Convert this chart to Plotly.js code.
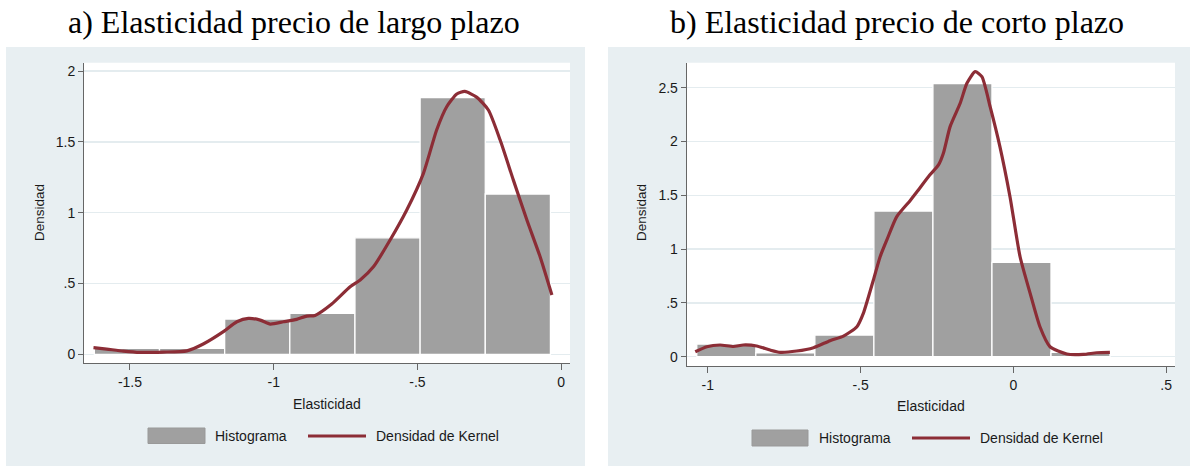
<!DOCTYPE html>
<html><head><meta charset="utf-8">
<script src="https://cdn.plot.ly/plotly-3.0.1.min.js"></script>
<style>body{margin:0;padding:0;background:#fff}#chart{width:1190px;height:466px}</style>
</head><body><div id="chart"></div>
<script>
// ---------- data ----------
const panelTitles = ["a) Elasticidad precio de largo plazo", "b) Elasticidad precio de corto plazo"];
const xAxisTitle = "Elasticidad";
const yAxisTitle = "Densidad";
const legendLabels = ["Histograma", "Densidad de Kernel"];

// Panel a: long-run price elasticity
const binStartA = -1.624;
const binWidthA = 0.2267;
const histA = [0.042, 0.042, 0.249, 0.289, 0.823, 1.812, 1.132];
const kernelXA = [-1.627,-1.581,-1.523,-1.465,-1.384,-1.302,-1.245,-1.175,-1.128,-1.088,-1.047,-1.012,-0.966,-0.920,-0.885,-0.856,-0.798,-0.734,-0.699,-0.653,-0.595,-0.537,-0.479,-0.433,-0.398,-0.363,-0.335,-0.293,-0.253,-0.212,-0.166,-0.119,-0.073,-0.032];
const kernelYA = [0.047,0.037,0.023,0.014,0.016,0.025,0.073,0.160,0.230,0.254,0.242,0.214,0.230,0.247,0.270,0.275,0.355,0.477,0.525,0.618,0.807,1.019,1.278,1.584,1.748,1.838,1.856,1.814,1.725,1.513,1.230,0.948,0.689,0.419];
const xTickValsA = [-1.5, -1, -0.5, 0];
const xTickTextA = ["-1.5", "-1", "-.5", "0"];
const yTickValsA = [0, 0.5, 1, 1.5, 2];
const yTickTextA = ["0", ".5", "1", "1.5", "2"];

// Panel b: short-run price elasticity
const binStartB = -1.036;
const binWidthB = 0.1932;
const histB = [0.118, 0.037, 0.202, 1.354, 2.537, 0.877, 0.041];
const kernelXB = [-1.041,-1.003,-0.960,-0.916,-0.884,-0.840,-0.796,-0.763,-0.709,-0.654,-0.600,-0.556,-0.512,-0.491,-0.458,-0.436,-0.414,-0.382,-0.338,-0.316,-0.273,-0.245,-0.229,-0.207,-0.174,-0.152,-0.125,-0.103,-0.076,-0.044,-0.011,0.022,0.055,0.087,0.120,0.175,0.229,0.273,0.316];
const kernelYB = [0.046,0.093,0.109,0.095,0.109,0.100,0.062,0.041,0.053,0.084,0.149,0.192,0.279,0.403,0.713,0.929,1.085,1.300,1.450,1.530,1.690,1.782,1.890,2.138,2.355,2.541,2.649,2.602,2.323,1.952,1.487,0.929,0.589,0.279,0.093,0.025,0.022,0.037,0.041];
const xTickValsB = [-1, -0.5, 0, 0.5];
const xTickTextB = ["-1", "-.5", "0", ".5"];
const yTickValsB = [0, 0.5, 1, 1.5, 2, 2.5];
const yTickTextB = ["0", ".5", "1", "1.5", "2", "2.5"];

// ---------- styling ----------
const W = 1190, H = 466;
const px = v => v / W;
const py = v => 1 - v / H;
const BAR = '#a0a0a0';
const KERNEL = '#8c2d36';
const BG = '#e8eff2';
const GRID = '#e4ecef';
const AX = '#666666';
const SANS = 'Liberation Sans, Arial, sans-serif';
const SERIF = 'Liberation Serif, Times New Roman, serif';

function centers(start, width, n) {
  const c = [];
  for (let i = 0; i < n; i++) c.push(start + width * (i + 0.5));
  return c;
}

const traces = [
  {type:'bar', x: centers(binStartA, binWidthA, histA.length), y: histA, width: binWidthA,
   marker:{color:BAR, line:{color:'#ffffff', width:1.3}}, xaxis:'x', yaxis:'y', showlegend:false, hoverinfo:'skip'},
  {type:'scatter', mode:'lines', x: kernelXA, y: kernelYA, line:{color:KERNEL, width:3.2, shape:'spline', smoothing:0.6},
   xaxis:'x', yaxis:'y', showlegend:false, hoverinfo:'skip'},
  {type:'bar', x: centers(binStartB, binWidthB, histB.length), y: histB, width: binWidthB,
   marker:{color:BAR, line:{color:'#ffffff', width:1.3}}, xaxis:'x2', yaxis:'y2', showlegend:false, hoverinfo:'skip'},
  {type:'scatter', mode:'lines', x: kernelXB, y: kernelYB, line:{color:KERNEL, width:3.2, shape:'spline', smoothing:0.6},
   xaxis:'x2', yaxis:'y2', showlegend:false, hoverinfo:'skip'}
];

function xAxis(domain, range, vals, text, anchor) {
  return {domain, range, anchor, tickmode:'array', tickvals:vals, ticktext:text,
    showline:true, linecolor:AX, linewidth:1, ticks:'outside', ticklen:6, tickcolor:AX, tickwidth:1,
    showgrid:false, zeroline:false, tickfont:{family:SANS, size:14, color:'#1a1a1a'}, fixedrange:true};
}
function yAxis(domain, range, vals, text, anchor) {
  return {domain, range, anchor, tickmode:'array', tickvals:vals, ticktext:text,
    showline:true, linecolor:AX, linewidth:1, ticks:'outside', ticklen:5, tickcolor:AX, tickwidth:1,
    showgrid:true, gridcolor:GRID, gridwidth:1.5, zeroline:false,
    tickfont:{family:SANS, size:14, color:'#1a1a1a'}, fixedrange:true};
}

const shapes = [
  {type:'rect', xref:'paper', yref:'paper', x0:px(6), x1:px(585), y0:0, y1:py(47), fillcolor:BG, line:{width:0}, layer:'below'},
  {type:'rect', xref:'paper', yref:'paper', x0:px(608), x1:1, y0:0, y1:py(47), fillcolor:BG, line:{width:0}, layer:'below'},
  {type:'rect', xref:'x domain', yref:'y domain', x0:0, x1:1, y0:0, y1:1, fillcolor:'#ffffff', line:{width:0}, layer:'below'},
  {type:'rect', xref:'x2 domain', yref:'y2 domain', x0:0, x1:1, y0:0, y1:1, fillcolor:'#ffffff', line:{width:0}, layer:'below'},
  // legend symbols
  {type:'rect', xref:'paper', yref:'paper', x0:px(148), x1:px(205), y0:py(443.5), y1:py(428), fillcolor:BAR, line:{color:'#999999', width:1}},
  {type:'line', xref:'paper', yref:'paper', x0:px(308), x1:px(366), y0:py(436), y1:py(436), line:{color:KERNEL, width:3.2}},
  {type:'rect', xref:'paper', yref:'paper', x0:px(752), x1:px(808), y0:py(446), y1:py(430), fillcolor:BAR, line:{color:'#999999', width:1}},
  {type:'line', xref:'paper', yref:'paper', x0:px(912), x1:px(970), y0:py(438), y1:py(438), line:{color:KERNEL, width:3.2}}
];

function txt(text, x, y, opts) {
  return Object.assign({text, x:px(x), y:py(y), xref:'paper', yref:'paper', showarrow:false,
    xanchor:'center', yanchor:'middle', font:{family:SANS, size:14, color:'#1a1a1a'}}, opts || {});
}

const annotations = [
  txt(panelTitles[0], 294, 22, {font:{family:SERIF, size:32, color:'#000'}}),
  txt(panelTitles[1], 897, 22, {font:{family:SERIF, size:32, color:'#000'}}),
  txt(yAxisTitle, 39, 213, {textangle:-90, font:{family:SANS, size:13.5, color:'#1a1a1a'}}),
  txt(yAxisTitle, 641, 213, {textangle:-90, font:{family:SANS, size:13.5, color:'#1a1a1a'}}),
  txt(xAxisTitle, 327, 404),
  txt(xAxisTitle, 931, 406),
  txt(legendLabels[0], 213, 436, {xanchor:'left'}),
  txt(legendLabels[1], 374, 436, {xanchor:'left'}),
  txt(legendLabels[0], 817, 438, {xanchor:'left'}),
  txt(legendLabels[1], 978, 438, {xanchor:'left'})
];

const layout = {
  width: W, height: H,
  margin:{l:0, r:0, t:0, b:0},
  paper_bgcolor:'#ffffff', plot_bgcolor:'#ffffff',
  showlegend:false,
  bargap:0,
  xaxis: xAxis([px(84), px(570)], [-1.660, 0.031], xTickValsA, xTickTextA, 'y'),
  yaxis: yAxis([py(363), py(62.7)], [-0.061, 2.059], yTickValsA, yTickTextA, 'x'),
  xaxis2: xAxis([px(686.7), px(1175)], [-1.069, 0.529], xTickValsB, xTickTextB, 'y2'),
  yaxis2: yAxis([py(366), py(62.7)], [-0.086, 2.732], yTickValsB, yTickTextB, 'x2'),
  shapes, annotations
};

Plotly.newPlot('chart', traces, layout, {staticPlot:true, displayModeBar:false});
</script>
</body></html>
